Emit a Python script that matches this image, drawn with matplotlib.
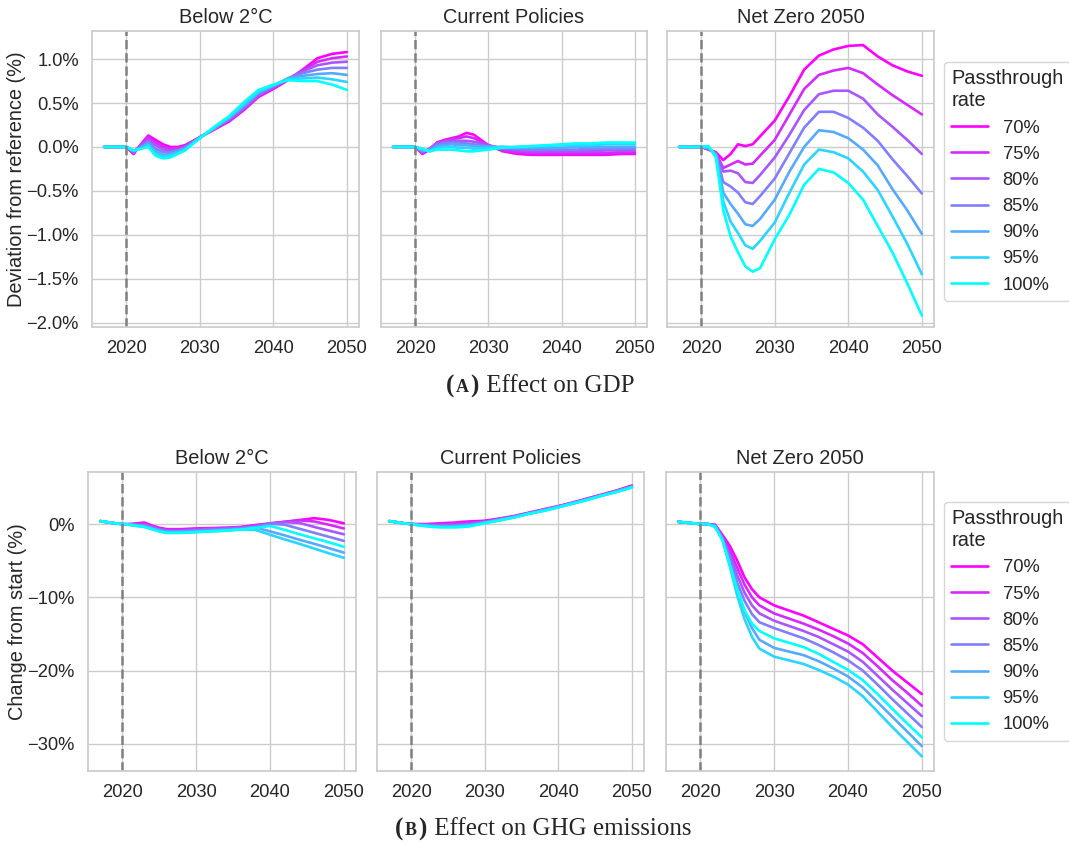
import numpy as np
import matplotlib
matplotlib.use('Agg')
import matplotlib.pyplot as plt
import seaborn as sns
from matplotlib.ticker import MultipleLocator, FuncFormatter
from matplotlib.offsetbox import TextArea, HPacker, AnchoredOffsetbox

sns.set_theme(style='whitegrid', context='notebook', font_scale=1.2)
plt.rcParams['font.family'] = ['Liberation Sans', 'DejaVu Sans']

years = [2017, 2019, 2020, 2021, 2022, 2023, 2024, 2025, 2026, 2027, 2028,
         2030, 2032, 2034, 2036, 2038, 2040, 2042, 2044, 2046, 2048, 2050]
rates = ['70%', '75%', '80%', '85%', '90%', '95%', '100%']
scenarios = ['Below 2°C', 'Current Policies', 'Net Zero 2050']

# GDP deviation from reference (%), one row per passthrough rate
gdp_b2 = [
    [0, 0, 0, -0.08, 0.03, 0.13, 0.08, 0.03, 0.00, 0.00, 0.02, 0.11, 0.20, 0.29, 0.42, 0.57, 0.66, 0.76, 0.88, 1.01, 1.06, 1.08],
    [0, 0, 0, -0.07, 0.02, 0.11, 0.05, 0.00, -0.02, -0.01, 0.01, 0.11, 0.20, 0.30, 0.43, 0.58, 0.67, 0.77, 0.87, 0.97, 1.01, 1.03],
    [0, 0, 0, -0.06, 0.02, 0.08, 0.02, -0.03, -0.04, -0.03, 0.00, 0.11, 0.21, 0.31, 0.44, 0.59, 0.68, 0.78, 0.86, 0.93, 0.96, 0.97],
    [0, 0, 0, -0.05, 0.00, 0.06, -0.02, -0.06, -0.06, -0.04, -0.01, 0.11, 0.21, 0.32, 0.46, 0.61, 0.69, 0.78, 0.84, 0.88, 0.90, 0.90],
    [0, 0, 0, -0.05, -0.01, 0.04, -0.05, -0.09, -0.08, -0.05, -0.02, 0.10, 0.22, 0.33, 0.47, 0.62, 0.70, 0.78, 0.81, 0.83, 0.84, 0.82],
    [0, 0, 0, -0.04, -0.02, 0.02, -0.08, -0.11, -0.10, -0.07, -0.03, 0.10, 0.22, 0.34, 0.49, 0.63, 0.70, 0.77, 0.78, 0.79, 0.77, 0.74],
    [0, 0, 0, -0.04, -0.02, 0.00, -0.10, -0.13, -0.12, -0.08, -0.04, 0.10, 0.23, 0.35, 0.51, 0.65, 0.71, 0.76, 0.75, 0.75, 0.71, 0.65],
]
gdp_cp = [
    [0, 0, 0, -0.08, -0.03, 0.05, 0.08, 0.10, 0.12, 0.16, 0.14, 0.02, -0.05, -0.08, -0.09, -0.09, -0.09, -0.09, -0.09, -0.09, -0.08, -0.08],
    [0, 0, 0, -0.07, -0.02, 0.05, 0.07, 0.09, 0.10, 0.12, 0.10, 0.02, -0.04, -0.06, -0.07, -0.07, -0.07, -0.07, -0.07, -0.07, -0.06, -0.06],
    [0, 0, 0, -0.06, -0.02, 0.04, 0.06, 0.07, 0.07, 0.07, 0.06, 0.02, -0.02, -0.04, -0.05, -0.05, -0.05, -0.05, -0.05, -0.04, -0.04, -0.04],
    [0, 0, 0, -0.05, -0.03, 0.03, 0.04, 0.05, 0.05, 0.04, 0.03, 0.01, -0.01, -0.02, -0.03, -0.03, -0.03, -0.03, -0.02, -0.02, -0.02, -0.02],
    [0, 0, 0, -0.04, -0.04, 0.01, 0.02, 0.03, 0.02, 0.02, 0.01, 0.00, 0.00, -0.01, -0.01, -0.01, -0.01, 0.00, 0.00, 0.00, 0.00, 0.00],
    [0, 0, 0, -0.03, -0.05, -0.01, 0.00, 0.00, -0.01, -0.01, -0.02, -0.01, 0.00, 0.00, 0.01, 0.01, 0.02, 0.02, 0.02, 0.03, 0.03, 0.03],
    [0, 0, 0, -0.02, -0.05, -0.03, -0.03, -0.03, -0.04, -0.05, -0.05, -0.03, -0.01, 0.00, 0.01, 0.02, 0.03, 0.04, 0.04, 0.05, 0.05, 0.05],
]
gdp_nz = [
    [0, 0, 0, -0.03, -0.06, -0.15, -0.08, 0.03, 0.01, 0.03, 0.12, 0.30, 0.58, 0.88, 1.04, 1.11, 1.15, 1.16, 1.03, 0.93, 0.86, 0.81],
    [0, 0, 0, -0.03, -0.07, -0.24, -0.20, -0.16, -0.20, -0.19, -0.10, 0.08, 0.37, 0.66, 0.82, 0.87, 0.90, 0.84, 0.71, 0.59, 0.48, 0.37],
    [0, 0, 0, -0.02, -0.08, -0.28, -0.27, -0.30, -0.40, -0.41, -0.32, -0.12, 0.14, 0.42, 0.60, 0.64, 0.64, 0.55, 0.37, 0.23, 0.08, -0.08],
    [0, 0, 0, -0.02, -0.08, -0.40, -0.45, -0.52, -0.63, -0.65, -0.56, -0.36, -0.07, 0.22, 0.40, 0.40, 0.33, 0.22, 0.07, -0.14, -0.33, -0.53],
    [0, 0, 0, -0.01, -0.09, -0.52, -0.65, -0.76, -0.88, -0.90, -0.82, -0.60, -0.28, 0.00, 0.19, 0.17, 0.10, -0.03, -0.21, -0.48, -0.72, -0.99],
    [0, 0, 0, 0.00, -0.10, -0.62, -0.85, -0.98, -1.12, -1.16, -1.07, -0.86, -0.52, -0.20, -0.03, -0.06, -0.13, -0.28, -0.49, -0.79, -1.10, -1.45],
    [0, 0, 0, 0.01, -0.12, -0.72, -1.02, -1.20, -1.36, -1.42, -1.38, -1.05, -0.77, -0.43, -0.25, -0.29, -0.41, -0.60, -0.90, -1.20, -1.55, -1.92],
]

# GHG emissions change from start (%)
em_b2 = [
    [0.4, 0.1, 0.0, 0.0, 0.1, 0.2, -0.2, -0.5, -0.7, -0.7, -0.7, -0.6, -0.55, -0.5, -0.4, -0.15, 0.1, 0.3, 0.55, 0.8, 0.55, 0.1],
    [0.4, 0.1, 0.0, -0.1, 0.0, 0.0, -0.3, -0.6, -0.8, -0.8, -0.8, -0.7, -0.6, -0.55, -0.45, -0.2, 0.05, 0.3, 0.5, 0.35, -0.1, -0.6],
    [0.4, 0.1, 0.0, -0.1, -0.1, -0.1, -0.4, -0.7, -0.9, -0.9, -0.9, -0.8, -0.7, -0.6, -0.5, -0.3, 0.0, 0.25, 0.15, -0.4, -0.9, -1.4],
    [0.4, 0.1, 0.0, -0.1, -0.1, -0.2, -0.5, -0.8, -1.0, -1.0, -1.0, -0.9, -0.8, -0.7, -0.6, -0.4, 0.05, -0.1, -0.65, -1.2, -1.75, -2.3],
    [0.4, 0.1, 0.0, -0.1, -0.2, -0.3, -0.6, -0.9, -1.1, -1.1, -1.1, -1.0, -0.9, -0.8, -0.7, -0.45, -1.0, -1.55, -2.15, -2.7, -3.3, -3.9],
    [0.4, 0.1, 0.0, -0.1, -0.2, -0.4, -0.7, -1.0, -1.2, -1.2, -1.2, -1.1, -1.0, -0.9, -0.75, -0.8, -1.45, -2.1, -2.7, -3.35, -4.0, -4.6],
    [0.4, 0.1, 0.0, -0.1, -0.3, -0.4, -0.7, -1.0, -1.2, -1.2, -1.2, -1.1, -1.0, -0.9, -0.75, -0.55, -0.25, -0.8, -1.4, -1.95, -2.5, -3.1],
]
em_cp = [
    [0.4, 0.1, 0.0, 0.0, 0.0, 0.05, 0.1, 0.15, 0.2, 0.3, 0.35, 0.45, 0.75, 1.1, 1.55, 2.0, 2.45, 2.95, 3.5, 4.05, 4.6, 5.25],
    [0.4, 0.1, 0.0, -0.05, -0.05, -0.05, 0.0, 0.0, 0.05, 0.1, 0.2, 0.35, 0.7, 1.05, 1.5, 1.95, 2.4, 2.9, 3.45, 4.0, 4.55, 5.2],
    [0.4, 0.1, 0.0, -0.1, -0.1, -0.15, -0.15, -0.1, -0.1, -0.05, 0.05, 0.3, 0.65, 1.0, 1.5, 1.95, 2.4, 2.9, 3.4, 3.95, 4.5, 5.15],
    [0.4, 0.1, 0.0, -0.1, -0.15, -0.2, -0.25, -0.25, -0.2, -0.15, -0.05, 0.25, 0.6, 1.0, 1.45, 1.9, 2.35, 2.85, 3.4, 3.95, 4.5, 5.1],
    [0.4, 0.1, 0.0, -0.15, -0.2, -0.3, -0.35, -0.35, -0.3, -0.25, -0.15, 0.2, 0.55, 0.95, 1.4, 1.85, 2.3, 2.8, 3.35, 3.9, 4.45, 5.05],
    [0.4, 0.1, 0.0, -0.15, -0.25, -0.35, -0.4, -0.4, -0.4, -0.35, -0.25, 0.15, 0.5, 0.9, 1.4, 1.8, 2.3, 2.8, 3.3, 3.9, 4.4, 5.0],
    [0.4, 0.1, 0.0, -0.2, -0.3, -0.4, -0.45, -0.45, -0.45, -0.4, -0.3, 0.1, 0.5, 0.9, 1.4, 1.8, 2.3, 2.8, 3.3, 3.9, 4.4, 5.0],
]
em_nz = [
    [0.3, 0.1, 0.0, 0.0, -0.1, -1.5, -3.0, -5.0, -7.3, -8.9, -10.0, -11.1, -11.8, -12.5, -13.4, -14.3, -15.2, -16.4, -18.2, -20.0, -21.6, -23.2],
    [0.3, 0.1, 0.0, 0.0, -0.15, -1.7, -3.6, -6.0, -8.3, -10.0, -11.1, -12.2, -12.9, -13.6, -14.4, -15.3, -16.3, -17.6, -19.4, -21.3, -23.0, -24.8],
    [0.3, 0.1, 0.0, 0.0, -0.2, -1.9, -4.2, -7.0, -9.4, -11.1, -12.2, -13.2, -13.9, -14.6, -15.4, -16.4, -17.4, -18.8, -20.7, -22.6, -24.4, -26.2],
    [0.3, 0.1, 0.0, 0.0, -0.25, -2.0, -4.8, -8.0, -10.5, -12.3, -13.4, -14.2, -14.9, -15.6, -16.5, -17.5, -18.6, -20.0, -21.9, -23.9, -25.8, -27.7],
    [0.3, 0.1, 0.0, 0.0, -0.3, -2.1, -5.4, -9.0, -12.0, -14.2, -15.8, -16.9, -17.4, -17.9, -18.7, -19.7, -20.8, -22.3, -24.3, -26.3, -28.3, -30.3],
    [0.3, 0.1, 0.0, 0.0, -0.35, -2.2, -5.8, -9.8, -13.0, -15.4, -17.0, -18.1, -18.6, -19.1, -19.9, -20.8, -21.9, -23.5, -25.6, -27.7, -29.7, -31.7],
    [0.3, 0.1, 0.0, 0.0, -0.4, -2.2, -5.6, -9.0, -11.8, -13.6, -14.6, -15.6, -16.2, -16.8, -17.7, -18.8, -19.9, -21.3, -23.2, -25.2, -27.2, -29.1],
]

colors = plt.cm.cool(np.linspace(1, 0, len(rates)))

fig = plt.figure(figsize=(10.69, 8.44), dpi=100)

# axes boxes in pixels: (left, right)
top_boxes = [(92, 359), (381, 647), (667, 934)]
bot_boxes = [(88, 356), (377, 644), (666, 934)]
W, H = 1069, 844


def make_row(boxes, y0, y1):
    axs = []
    for x0, x1 in boxes:
        rect = [x0 / W, 1 - y1 / H, (x1 - x0) / W, (y1 - y0) / H]
        ax = fig.add_axes(rect, sharey=axs[0] if axs else None)
        axs.append(ax)
    return axs


def pct(dec):
    return FuncFormatter(lambda v, p: (f'{v:.{dec}f}%').replace('-', '\u2212'))


def draw_row(axs, datasets, ylabel, ylim, step, dec):
    for ax, title, data in zip(axs, scenarios, datasets):
        for i, r in enumerate(rates):
            ax.plot(years, data[i], color=colors[i], lw=1.9, label=r)
        ax.axvline(2020, color='grey', ls='--', lw=1.8)
        ax.set_title(title)
        ax.set_xticks([2020, 2030, 2040, 2050])
        ax.set_xlim(2015.35, 2051.65)
        for s in ax.spines.values():
            s.set_visible(True)
    axs[0].set_ylim(*ylim)
    axs[0].yaxis.set_major_locator(MultipleLocator(step))
    axs[0].yaxis.set_major_formatter(pct(dec))
    axs[0].set_ylabel(ylabel, labelpad=0)
    for ax in axs[1:]:
        ax.tick_params(labelleft=False)
    return axs[-1]


top = make_row(top_boxes, 31, 327)
last = draw_row(top, [gdp_b2, gdp_cp, gdp_nz], 'Deviation from reference (%)', (-2.05, 1.32), 0.5, 1)
last.legend(title='Passthrough\nrate', loc='upper left', bbox_to_anchor=(1.037, 0.895),
            borderaxespad=0, alignment='left')

bot = make_row(bot_boxes, 472, 771)
last = draw_row(bot, [em_b2, em_cp, em_nz], 'Change from start (%)', (-33.7, 7.1), 10, 0)
last.legend(title='Passthrough\nrate', loc='upper left', bbox_to_anchor=(1.037, 0.90),
            borderaxespad=0, alignment='left')


def caption(letter, text, xc, yc):
    serif = ['Liberation Serif', 'DejaVu Serif']
    parts = [
        TextArea('(', textprops=dict(family=serif, size=18, weight='bold')),
        TextArea(letter, textprops=dict(family=serif, size=13, weight='bold')),
        TextArea(')', textprops=dict(family=serif, size=18, weight='bold')),
        TextArea(' ' + text, textprops=dict(family=serif, size=18)),
    ]
    box = HPacker(children=parts, align='baseline', pad=0, sep=1)
    anc = AnchoredOffsetbox(loc='center', child=box, pad=0, frameon=False,
                            bbox_to_anchor=(xc / W, 1 - yc / H),
                            bbox_transform=fig.transFigure, borderpad=0)
    fig.add_artist(anc)


caption('A', 'Effect on GDP', 540, 386)
caption('B', 'Effect on GHG emissions', 543, 829)

fig.savefig('out.png', dpi=100)
